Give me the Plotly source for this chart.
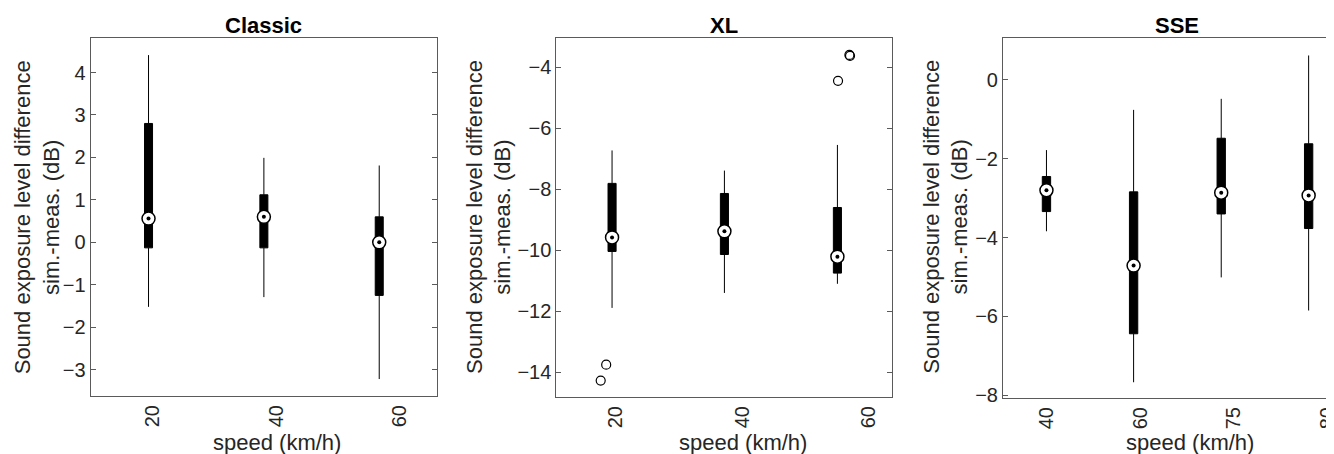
import plotly.graph_objects as go

W, H = 1334, 454
# the page adds an 8px body margin and the snapshot is squeezed back to
# 1334x454, so positions below are given in snapshot pixels and mapped back
PAGE_OFFSET = 8
SX = (W + PAGE_OFFSET) / W
SY = (H + PAGE_OFFSET) / H

# ---- data (dB, sim - meas) ----
classic_speed = [18.8, 37.5, 56.2]
classic_low = [-1.52, -1.29, -3.22]
classic_q1 = [-0.13, -0.13, -1.25]
classic_med = [0.56, 0.60, 0.0]
classic_q3 = [2.80, 1.12, 0.60]
classic_high = [4.41, 1.99, 1.81]
classic_out_x = []
classic_out_y = []

xl_speed = [18.9, 36.7, 54.6]
xl_low = [-11.89, -11.40, -11.10]
xl_q1 = [-10.04, -10.14, -10.75]
xl_med = [-9.58, -9.38, -10.21]
xl_q3 = [-7.81, -8.14, -8.60]
xl_high = [-6.73, -7.39, -6.55]
xl_out_x = [17.1, 17.97, 54.7, 56.5, 56.6]
xl_out_y = [-14.27, -13.75, -4.45, -3.60, -3.63]

sse_pos = [0.946, 1.876, 2.811, 3.744]
sse_low = [-3.84, -7.67, -5.01, -5.85]
sse_q1 = [-3.34, -6.44, -3.40, -3.77]
sse_med = [-2.80, -4.71, -2.86, -2.93]
sse_q3 = [-2.45, -2.84, -1.48, -1.62]
sse_high = [-1.78, -0.76, -0.48, 0.62]
sse_out_x = []
sse_out_y = []

speed_ticks = [20, 40, 60]
sse_ticks = [1, 2, 3, 4]
sse_tick_labels = ["40", "60", "75", "80"]

FONT = "Liberation Sans, Arial, Helvetica, sans-serif"
TXT = "#262626"
FRAME = "#5a5a5a"


def px_x(x):
    return min(1.0, (x * SX - PAGE_OFFSET) / W)


def px_y(y):
    return 1 - (y * SY - PAGE_OFFSET) / H


def add_panel(fig, n, pos, low, q1, med, q3, high, out_x, out_y, box_w):
    xa, ya = f"x{n}", f"y{n}"
    fig.add_trace(go.Box(
        x=pos, q1=q1, median=med, q3=q3, lowerfence=low, upperfence=high,
        width=box_w, whiskerwidth=0, boxpoints=False,
        fillcolor="black", line=dict(color="black", width=1),
        showlegend=False, xaxis=xa, yaxis=ya,
    ))
    if out_x:
        fig.add_trace(go.Scatter(
            x=out_x, y=out_y, mode="markers", showlegend=False,
            marker=dict(symbol="circle-open", size=9, color="black",
                        line=dict(width=1.2)),
            xaxis=xa, yaxis=ya,
        ))
    fig.add_trace(go.Scatter(
        x=pos, y=med, mode="markers", showlegend=False,
        marker=dict(symbol="circle", size=13, color="white",
                    line=dict(color="black", width=1.5)),
        xaxis=xa, yaxis=ya,
    ))
    fig.add_trace(go.Scatter(
        x=pos, y=med, mode="markers", showlegend=False,
        marker=dict(symbol="circle", size=4, color="black"),
        xaxis=xa, yaxis=ya,
    ))


fig = go.Figure()
add_panel(fig, "", classic_speed, classic_low, classic_q1, classic_med,
          classic_q3, classic_high, classic_out_x, classic_out_y, 1.3)
add_panel(fig, 2, xl_speed, xl_low, xl_q1, xl_med, xl_q3, xl_high,
          xl_out_x, xl_out_y, 1.28)
add_panel(fig, 3, sse_pos, sse_low, sse_q1, sse_med, sse_q3, sse_high,
          sse_out_x, sse_out_y, 0.089)

tick_font = dict(family=FONT, size=20, color=TXT)


def xaxis(dom, rng, ticks, labels, nudge, anchor):
    # rotated labels sit a few px right of their tick in plotly; nudge back
    return dict(domain=dom, range=rng, tickvals=[t - nudge for t in ticks],
                ticktext=labels, tickangle=-90, tickfont=tick_font, ticks="",
                showgrid=False, zeroline=False, showline=True,
                linecolor=FRAME, linewidth=1, mirror=True, anchor=anchor,
                ticklabeloverflow="allow")


def yaxis(dom, rng, dtick, anchor, mirror="ticks"):
    return dict(domain=dom, range=rng, dtick=dtick, tickfont=tick_font,
                ticks="inside", ticklen=5, tickcolor=FRAME, showgrid=False,
                zeroline=False, showline=True, linecolor=FRAME, linewidth=1,
                mirror=mirror, anchor=anchor)


speed_labels = [str(s) for s in speed_ticks]
fig.update_layout(
    width=W, height=H, paper_bgcolor="white", plot_bgcolor="white",
    margin=dict(l=0, r=0, t=0, b=0), showlegend=False,
    xaxis=xaxis([px_x(90), px_x(434)], [9.4, 65.5], speed_ticks,
                speed_labels, 0.5, "y"),
    yaxis=yaxis([px_y(396), px_y(38)], [-3.62, 4.81], 1, "x"),
    xaxis2=xaxis([px_x(553), px_x(887)], [10.07, 63.3], speed_ticks,
                 speed_labels, 0.5, "y2"),
    yaxis2=yaxis([px_y(397), px_y(38)], [-14.81, -3.05], 2, "x2"),
    # SSE panel runs off the right edge of the picture
    xaxis3=xaxis([px_x(997), 1.0], [0.482, 4.10], sse_ticks,
                 sse_tick_labels, 0.055, "y3"),
    yaxis3=yaxis([px_y(398), px_y(38)], [-8.07, 1.06], 2, "x3", mirror=False),
)

titles = [("Classic", 262), ("XL", 720), ("SSE", 1170)]
for text, cx in titles:
    fig.add_annotation(text=f"<b>{text}</b>", xref="paper", yref="paper",
                       x=px_x(cx), y=px_y(25), showarrow=False,
                       font=dict(family=FONT, size=22, color="black"),
                       xanchor="center", yanchor="middle")

ytitle = "Sound exposure level difference<br>sim.-meas. (dB)"
for cx in [37, 486, 940]:
    fig.add_annotation(text=ytitle, xref="paper", yref="paper",
                       x=px_x(cx), y=px_y(217), showarrow=False, textangle=-90,
                       font=dict(family=FONT, size=22, color=TXT),
                       xanchor="center", yanchor="middle")

for cx in [275, 739, 1183]:
    fig.add_annotation(text="speed (km/h)", xref="paper", yref="paper",
                       x=px_x(cx), y=px_y(442), showarrow=False,
                       font=dict(family=FONT, size=22, color=TXT),
                       xanchor="center", yanchor="middle")

fig.write_html("out.html")
